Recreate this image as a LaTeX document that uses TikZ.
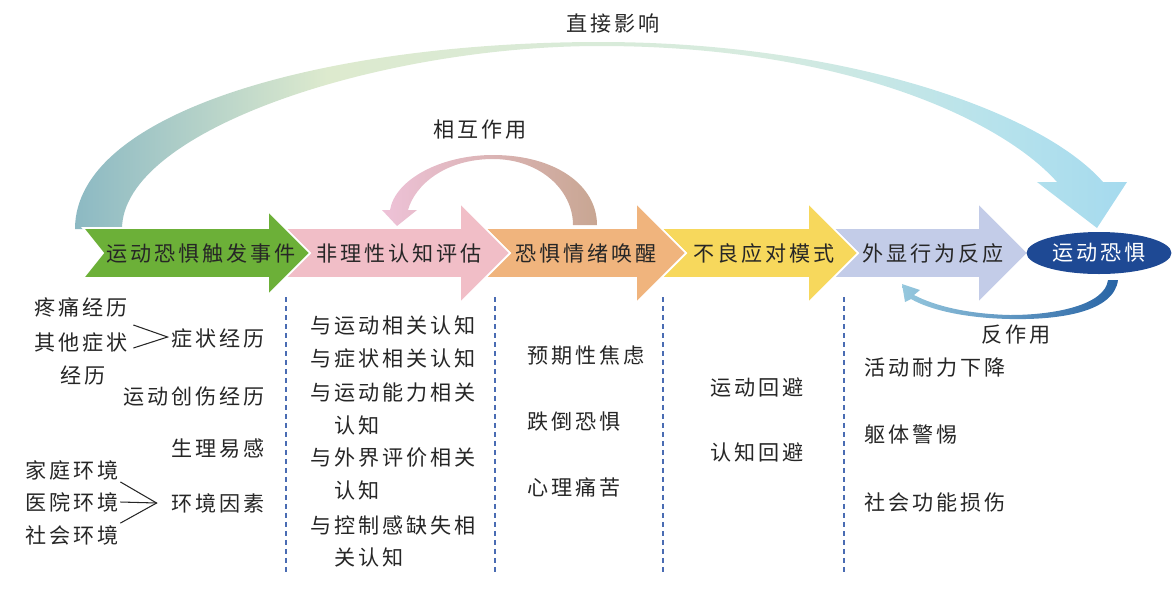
\documentclass[tikz,border=0pt]{standalone}
\usepackage{fontspec}
\setmainfont{Noto Sans CJK SC}[LetterSpace=14]
\usetikzlibrary{calc,shapes.geometric}
\definecolor{trigger}{RGB}{108,176,56}
\definecolor{apprais}{RGB}{241,190,199}
\definecolor{arousal}{RGB}{240,180,125}
\definecolor{coping}{RGB}{247,216,92}
\definecolor{behave}{RGB}{195,204,232}
\definecolor{fearblue}{RGB}{30,73,148}
\definecolor{sepblue}{RGB}{74,108,179}
\definecolor{bigL}{RGB}{140,185,195}
\definecolor{bigM}{RGB}{221,234,206}
\definecolor{bigN}{RGB}{214,235,224}
\definecolor{bigC}{RGB}{182,226,236}
\definecolor{bigR}{RGB}{165,218,238}
\definecolor{mutL}{RGB}{238,194,216}
\definecolor{mutR}{RGB}{200,166,146}
\definecolor{backL}{RGB}{150,200,222}
\definecolor{backR}{RGB}{40,100,165}
\pgfdeclarehorizontalshading{bigarc}{100bp}{color(0bp)=(bigL);
    color(25bp)=(bigL); color(37bp)=(bigM); color(58bp)=(bigN);
    color(69bp)=(bigC); color(75bp)=(bigR); color(100bp)=(bigR)}

\begin{document}
\begin{tikzpicture}[x=0.02cm,y=-0.02cm]
    \tikzset{txt/.style={inner sep=1pt,text=black!85,
            font=\fontsize{12}{14}\selectfont},
        stage/.style={draw=white,line width=1pt},
        sep/.style={draw=sepblue,line width=0.8pt,
            dash pattern=on 0.1cm off 0.08cm},
        brace/.style={draw=black!85,line width=0.6pt}}
    \useasboundingbox (0,0) rectangle (1174,593);
    \shade[shading=bigarc]
        (75,229) .. controls (75,110) and (330,42) .. (600,42)
        .. controls (840,42) and (1040,110) .. (1103,182)
        -- (1127,182) -- (1097,228) -- (1037,182) -- (1057,182)
        .. controls (1000,118) and (840,46) .. (600,46)
        .. controls (380,46) and (122,130) .. (122,229) -- cycle;
    \shade[left color=mutL,right color=mutR]
        (597,225) .. controls (597,185) and (555,155) .. (493,155)
        .. controls (440,155) and (395,180) .. (390,210)
        -- (382,210) -- (397,226) -- (417,210) -- (408,210)
        .. controls (415,185) and (445,159) .. (493,159)
        .. controls (540,159) and (573,190) .. (573,225) -- cycle;
    \foreach \tl/\nd/\hb/\hh/\col/\tx/\lbl/\nm in {
        833/25/978/50/behave/933/外显行为反应/react,
        661/25/808/50/coping/764/不良应对模式/cope,
        485/25/636/50/arousal/586/恐惧情绪唤醒/arouse,
        285/25/460/50/apprais/399/非理性认知评估/apprais,
        83/20/268/42/trigger/201/运动恐惧触发事件/trig}{
        \filldraw[stage,fill=\col] (\tl,228) -- (\hb,228) -- (\hb,253-\hh)
            -- (\hb+\hh,253) -- (\hb,253+\hh) -- (\hb,278) -- (\tl,278)
            -- (\tl+\nd,253) -- cycle;
        \node[txt] (\nm) at (\tx,253) {\lbl};
    }
    \node[txt,ellipse,fill=fearblue,text=white,minimum width=2.9cm,
        minimum height=0.84cm] (fear) at (1099,253) {运动恐惧};
    \shade[left color=backL,right color=backR]
        (1118,280) .. controls (1114,312) and (1060,320) .. (1010,319)
        .. controls (965,318) and (930,310) .. (911,299)
        -- (905,302) -- (902,284) -- (920,290) -- (914,295)
        .. controls (935,306) and (968,314) .. (1010,315)
        .. controls (1055,315) and (1105,305) .. (1108,280) -- cycle;
    \node[txt] (direct) at (613,23) {直接影响};
    \node[txt] (mutual) at (480,130) {相互作用};
    \node[txt] (counter) at (1016,335) {反作用};
    \foreach \x in {286,495,663,844}
        \draw[sep] (\x,297) -- (\x,573);
    \node[txt,anchor=west] (pain) at (32,307) {疼痛经历};
    \node[txt,anchor=west] (other) at (32,342) {其他症状};
    \node[txt,anchor=west] (otherb) at (58,375) {经历};
    \node[txt,anchor=east] (symp) at (267,338) {症状经历};
    \node[txt,anchor=east] (injury) at (267,397) {运动创伤经历};
    \node[txt,anchor=east] (physio) at (267,449) {生理易感};
    \node[txt,anchor=west] (home) at (23,470) {家庭环境};
    \node[txt,anchor=west] (hosp) at (23,502) {医院环境};
    \node[txt,anchor=west] (soc) at (23,535) {社会环境};
    \node[txt,anchor=east] (env) at (267,503) {环境因素};
    \coordinate (symptip) at ($(symp.west)+(-2,-1)$);
    \coordinate (envtip) at ($(env.west)+(-13,0)$);
    \draw[brace] ($(other.east)+(4,-17)$) -- (symptip) -- ($(other.east)+(4,6)$);
    \draw[brace] (home.south east) -- (envtip) -- (soc.north east);
    \draw[brace] (hosp.east) -- (envtip);
    \foreach \x/\y/\t [count=\i] in {308/326/与运动相关认知,
        308/358/与症状相关认知, 308/392/与运动能力相关, 332/425/认知,
        308/458/与外界评价相关, 332/490/认知, 308/525/与控制感缺失相,
        332/557/关认知, 525/355/预期性焦虑, 525/422/跌倒恐惧,
        525/487/心理痛苦, 708/387/运动回避, 708/452/认知回避,
        862/368/活动耐力下降, 862/434/躯体警惕, 862/502/社会功能损伤}
        \node[txt,anchor=west] (item\i) at (\x,\y) {\t};
\end{tikzpicture}
\end{document}
